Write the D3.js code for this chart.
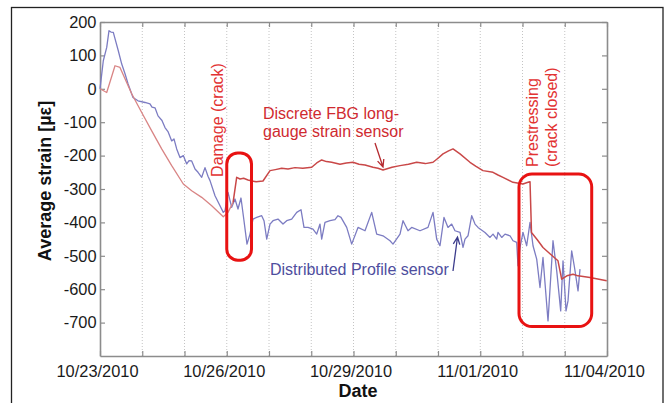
<!DOCTYPE html>
<html><head><meta charset="utf-8">
<script src="https://cdn.jsdelivr.net/npm/d3@7"></script>
<style>
html,body{margin:0;padding:0;background:#fff;}
svg{display:block;font-family:"Liberation Sans",Arial,sans-serif;}
</style></head>
<body><svg id="c" width="665" height="403"></svg>
<script>
// ---- data (x = days since 10/23/2010, y = average strain in µε) ----
const startDate = Date.UTC(2010, 9, 23);
const tickLabelDays = [0, 3, 6, 9, 12];
const yTickValues = [200, 100, 0, -100, -200, -300, -400, -500, -600, -700];

const fbgDay = [0,0.159,0.26,0.355,0.473,0.592,0.75,0.987,1.224,1.46,1.697,1.972,2.17,2.407,2.644,2.918,3.03,3.15,3.235,3.314,3.4,3.503,3.6,3.692,3.858,4.024,4.15,4.3,4.45,4.615,4.8,5.011,5.13,5.247,5.36,5.484,5.68,5.83,5.988,6.13,6.272,6.462,6.58,6.698,6.911,7.101,7.3,7.496,7.7,7.882,8.0,8.118,8.25,8.355,8.521,8.757,8.9,9.065,9.302,9.42,9.538,9.775,10.012,10.13,10.178,10.213,10.35,10.485,10.65,10.84,10.927,11.05,11.195,11.314,11.598,11.993];
const fbgStrain = [0,-11,30,69,64,30,-15,-71,-126,-180,-230,-285,-305,-325,-350,-383,-370,-340,-265,-270,-268,-273,-276,-278,-276,-245,-242,-238,-240,-236,-238,-235,-222,-213,-218,-220,-226,-222,-220,-226,-228,-235,-238,-243,-235,-230,-226,-220,-224,-220,-208,-195,-186,-180,-195,-220,-232,-245,-250,-258,-265,-280,-285,-280,-278,-430,-452,-475,-494,-515,-570,-560,-555,-560,-565,-575];

const dpsDay = [0,0.078,0.159,0.213,0.26,0.315,0.355,0.433,0.514,0.592,0.663,0.781,0.899,1.065,1.183,1.231,1.302,1.373,1.467,1.538,1.609,1.697,1.751,1.815,1.893,1.972,2.052,2.107,2.17,2.249,2.32,2.407,2.485,2.556,2.604,2.722,2.84,2.918,2.959,3.03,3.117,3.195,3.266,3.337,3.408,3.479,3.55,3.621,3.709,3.827,3.882,3.946,4.024,4.095,4.213,4.331,4.419,4.537,4.656,4.757,4.828,4.923,5.041,5.129,5.207,5.247,5.325,5.444,5.562,5.633,5.704,5.839,5.957,6.107,6.272,6.431,6.549,6.698,6.864,6.935,7.101,7.172,7.29,7.377,7.574,7.763,7.882,7.969,8.047,8.142,8.237,8.324,8.402,8.521,8.592,8.639,8.71,8.798,8.876,8.947,9.112,9.231,9.302,9.389,9.42,9.508,9.586,9.704,9.775,9.863,9.893,9.941,10.012,10.099,10.178,10.249,10.336,10.414,10.485,10.604,10.722,10.81,10.904,10.959,11.03,11.077,11.164,11.231,11.314,11.361];
const dpsStrain = [0,84,124,174,170,169,150,114,74,45,15,-26,-36,-41,-45,-55,-57,-81,-95,-116,-128,-156,-150,-180,-206,-200,-225,-215,-216,-240,-250,-265,-236,-262,-275,-320,-350,-370,-365,-310,-355,-330,-360,-327,-395,-465,-435,-390,-385,-380,-395,-450,-405,-395,-390,-405,-395,-390,-370,-362,-415,-415,-420,-435,-405,-450,-400,-395,-392,-380,-385,-415,-465,-415,-425,-370,-435,-440,-455,-465,-435,-395,-425,-415,-425,-415,-370,-450,-470,-385,-415,-405,-425,-430,-475,-450,-440,-380,-405,-415,-430,-445,-435,-450,-430,-445,-435,-440,-455,-460,-530,-475,-430,-470,-400,-470,-510,-595,-505,-695,-455,-545,-665,-515,-665,-635,-485,-535,-605,-540];

// day after which the FBG trace is drawn in the stronger red
const fbgStrongFrom = 3.15;

// ---- chart ----
const svg = d3.select("#c");
const toDate = d => new Date(startDate + d * 864e5);
const x = d3.scaleUtc().domain([toDate(0), toDate(12)]).range([100, 607]);
const y = d3.scaleLinear().domain([-800, 200]).range([356, 22]);

// outer frame
svg.append("rect").attr("x", 11.5).attr("y", 7.5).attr("width", 651.5).attr("height", 430)
  .attr("fill", "none").attr("stroke", "#222").attr("stroke-width", 1.3);

// vertical dotted grid
const allDays = d3.range(1, 12).map(toDate);
svg.append("g").selectAll("line").data(allDays).join("line")
  .attr("x1", d => x(d)).attr("x2", d => x(d)).attr("y1", y(200)).attr("y2", y(-800))
  .attr("stroke", "#c4c4c4").attr("stroke-width", 1).attr("stroke-dasharray", "1,2");

const axisColor = "#8c8c8c";
const fmt = d3.utcFormat("%m/%d/%Y");
const labelSet = new Set(tickLabelDays.map(d => +toDate(d)));
const dayTicks = d3.range(0, 13).map(toDate);

function styleAxis(g) {
  g.select(".domain").attr("stroke", axisColor).attr("stroke-width", 1.6);
  g.selectAll(".tick line").attr("stroke", axisColor).attr("stroke-width", 1.2);
  g.selectAll("text").attr("fill", "#1a1a1a").attr("font-size", "16.4px")
    .attr("font-family", "Liberation Sans, Arial, sans-serif");
}

// bottom axis
svg.append("g").attr("transform", `translate(0,${y(-800)})`)
  .call(d3.axisBottom(x).tickValues(dayTicks).tickSizeInner(-5).tickSizeOuter(0).tickPadding(9)
    .tickFormat(d => labelSet.has(+d) ? fmt(d) : ""))
  .call(styleAxis).call(g => g.selectAll("text").attr("dx", "-3"));
// top axis
svg.append("g").attr("transform", `translate(0,${y(200)})`)
  .call(d3.axisTop(x).tickValues(dayTicks).tickSizeInner(-5).tickSizeOuter(0).tickFormat(""))
  .call(styleAxis);
// left axis
svg.append("g").attr("transform", `translate(${x(toDate(0))},0)`)
  .call(d3.axisLeft(y).tickValues(yTickValues).tickSizeInner(-5).tickSizeOuter(0).tickPadding(3.5)
    .tickFormat(d => String(d)))
  .call(styleAxis);
// right axis
svg.append("g").attr("transform", `translate(${x(toDate(12))},0)`)
  .call(d3.axisRight(y).tickValues(yTickValues).tickSizeInner(-5).tickSizeOuter(0).tickFormat(""))
  .call(styleAxis);

// axis titles
svg.append("text").attr("x", 358).attr("y", 397).attr("text-anchor", "middle")
  .attr("font-weight", "bold").attr("font-size", "18px").attr("fill", "#111").text("Date");
svg.append("text").attr("transform", "translate(51,181) rotate(-90)").attr("text-anchor", "middle")
  .attr("font-weight", "bold").attr("font-size", "18px").attr("fill", "#111").text("Average strain [µε]");

// lines
const line = d3.line().x(d => x(toDate(d[0]))).y(d => y(d[1]));
svg.append("path").datum(dpsDay.map((d, i) => [d, dpsStrain[i]]))
  .attr("d", line).attr("fill", "none").attr("stroke", "#7c7cc2").attr("stroke-width", 1.3)
  .attr("stroke-linejoin", "round");
const fbgPts = fbgDay.map((d, i) => [d, fbgStrain[i]]);
svg.append("path").datum(fbgPts.filter(p => p[0] <= fbgStrongFrom))
  .attr("d", line).attr("fill", "none").attr("stroke", "#d98585").attr("stroke-width", 1.3)
  .attr("stroke-linejoin", "round");
svg.append("path").datum(fbgPts.filter(p => p[0] >= fbgStrongFrom))
  .attr("d", line).attr("fill", "none").attr("stroke", "#c94848").attr("stroke-width", 1.5)
  .attr("stroke-linejoin", "round");

// annotation boxes
const boxRed = "#e81212";
function box(d0, d1, v0, v1, r) {
  const x0 = x(toDate(d0)), x1 = x(toDate(d1)), y0 = y(v0), y1 = y(v1);
  svg.append("rect").attr("x", x0).attr("y", y0).attr("width", x1 - x0).attr("height", y1 - y0)
    .attr("rx", r).attr("ry", r).attr("fill", "none").attr("stroke", boxRed).attr("stroke-width", 3);
}
box(3.0, 3.586, -192, -513, 11);
box(9.917, 11.638, -255, -712, 13);

// annotation texts
const annRed = "#e23232";
svg.append("text").attr("transform", "translate(223,120) rotate(-90)").attr("text-anchor", "middle")
  .attr("font-size", "16px").attr("fill", annRed).text("Damage (crack)");
svg.append("text").attr("transform", "translate(537.5,167) rotate(-90)")
  .attr("font-size", "16px").attr("fill", annRed).text("Prestressing");
svg.append("text").attr("transform", "translate(556.5,167) rotate(-90)")
  .attr("font-size", "16px").attr("fill", annRed).text("(crack closed)");
svg.append("text").attr("x", 263).attr("y", 119).attr("font-size", "16px").attr("fill", "#cf2a30")
  .text("Discrete FBG long-");
svg.append("text").attr("x", 263).attr("y", 137).attr("font-size", "16px").attr("fill", "#cf2a30")
  .text("gauge strain sensor");
svg.append("text").attr("x", 270).attr("y", 275).attr("font-size", "16px").attr("fill", "#4e4e9e")
  .text("Distributed Profile sensor");

// arrows
function arrow(x0, y0, x1, y1, color) {
  const a = Math.atan2(y1 - y0, x1 - x0), L = 8, w = 0.42;
  const p = d3.path();
  p.moveTo(x0, y0); p.lineTo(x1, y1);
  p.moveTo(x1 - L * Math.cos(a - w), y1 - L * Math.sin(a - w)); p.lineTo(x1, y1);
  p.lineTo(x1 - L * Math.cos(a + w), y1 - L * Math.sin(a + w));
  svg.append("path").attr("d", p.toString()).attr("fill", "none").attr("stroke", color).attr("stroke-width", 1.3);
}
arrow(375, 143, 383, 167, "#b52a30");
arrow(453, 271, 457.5, 237, "#3c3c8c");
</script></body></html>
